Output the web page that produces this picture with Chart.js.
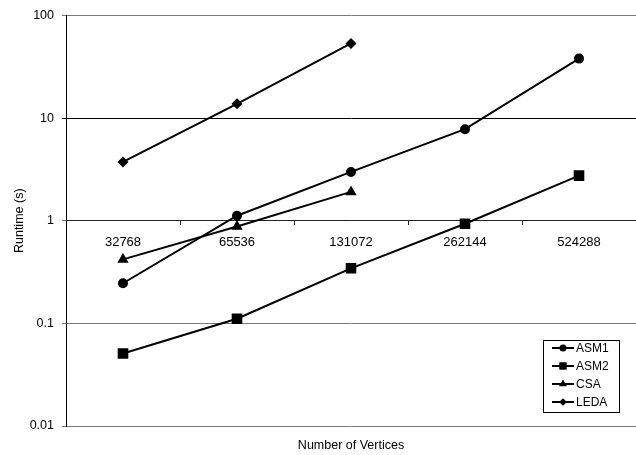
<!DOCTYPE html>
<html lang="en">
<head>
    <meta charset="UTF-8">
    <title>Runtime vs Number of Vertices</title>
    <script src="https://cdn.jsdelivr.net/npm/chart.js"></script>
    <style>
        body { margin: 0; background: #fff; }
        #wrap { width: 636px; height: 455px; }
    </style>
</head>
<body>
    <div id="wrap"><canvas id="runtimeChart" width="636" height="455"></canvas></div>

    <script>
        const vertices = ['32768', '65536', '131072', '262144', '524288'];
        const asm1 = [0.246, 1.12, 2.99, 7.8, 38];
        const asm2 = [0.0508, 0.111, 0.344, 0.935, 2.75];
        const csa = [0.42, 0.88, 1.91, null, null];
        const leda = [3.74, 13.8, 53.5, null, null];
        const yTicks = [0.01, 0.1, 1, 10, 100];

        const font = 'Liberation Sans, Arial, sans-serif';

        function series(label, data, style, radius) {
            return {
                label: label,
                data: data,
                borderColor: '#000',
                backgroundColor: '#000',
                borderWidth: 2,
                pointStyle: style,
                pointRadius: radius,
                pointHoverRadius: radius,
                pointBorderWidth: 0,
                tension: 0
            };
        }

        // legend box drawn inside the plot, bottom right
        const boxLegend = {
            id: 'boxLegend',
            afterDraw(chart) {
                const c = chart.ctx;
                const area = chart.chartArea;
                const w = 76, h = 72;
                const x0 = area.right - 17 - w, y0 = area.bottom - 14 - h;
                c.save();
                c.fillStyle = '#fff';
                c.fillRect(x0, y0, w, h);
                c.strokeStyle = '#000';
                c.lineWidth = 1;
                c.strokeRect(x0 + 0.5, y0 + 0.5, w, h);
                c.font = '12px ' + font;
                c.textBaseline = 'middle';
                chart.data.datasets.forEach((ds, i) => {
                    const y = y0 + 8 + i * 18;
                    c.strokeStyle = '#000';
                    c.lineWidth = 2;
                    c.beginPath();
                    c.moveTo(x0 + 9, y);
                    c.lineTo(x0 + 31, y);
                    c.stroke();
                    c.fillStyle = '#000';
                    Chart.helpers.drawPoint(c, {pointStyle: ds.pointStyle, radius: ds.pointRadius * 0.7, borderWidth: 0}, x0 + 20, y);
                    c.fillStyle = '#000';
                    c.fillText(ds.label, x0 + 33, y + 1);
                });
                c.restore();
            }
        };

        function noSidePadding(scale) {
            scale.paddingLeft = 0;
            scale.paddingRight = 0;
        }

        const ctx = document.getElementById('runtimeChart').getContext('2d');
        new Chart(ctx, {
            type: 'line',
            data: {
                labels: vertices,
                datasets: [
                    series('ASM1', asm1, 'circle', 5),
                    series('ASM2', asm2, 'rect', 7.5),
                    series('CSA', csa, 'triangle', 6.5),
                    series('LEDA', leda, 'rectRot', 5.5)
                ]
            },
            options: {
                responsive: false,
                animation: false,
                layout: { autoPadding: false, padding: { top: 15, right: 0, left: 0, bottom: 0 } },
                plugins: {
                    legend: { display: false },
                    tooltip: { enabled: false }
                },
                scales: {
                    x: {
                        type: 'category',
                        position: { y: 1 },
                        offset: true,
                        grid: {
                            offset: true,
                            drawOnChartArea: false,
                            drawTicks: true,
                            tickLength: 4,
                            color: '#222'
                        },
                        border: { color: '#222', width: 1 },
                        ticks: {
                            color: '#000',
                            font: { family: font, size: 13 },
                            padding: 10,
                            maxRotation: 0
                        },
                        afterFit: noSidePadding
                    },
                    x2: {
                        type: 'category',
                        position: 'bottom',
                        offset: true,
                        grid: { display: false },
                        border: { display: false },
                        ticks: { display: false },
                        title: {
                            display: true,
                            text: 'Number of Vertices',
                            color: '#000',
                            font: { family: font, size: 12.5 },
                            padding: { top: 6, bottom: 2 }
                        },
                        afterFit(scale) {
                            noSidePadding(scale);
                            scale.height = 29;
                        }
                    },
                    y: {
                        type: 'logarithmic',
                        min: 0.01,
                        max: 100,
                        afterBuildTicks(scale) {
                            scale.ticks = yTicks.map(v => ({ value: v }));
                        },
                        afterFit(scale) { scale.width = 66; },
                        grid: {
                            color: ctx => (ctx.tick && ctx.tick.value === 10) ? '#000' : '#7a7a7a',
                            tickLength: 4,
                            drawTicks: true
                        },
                        border: { color: '#000', width: 1 },
                        ticks: {
                            color: '#000',
                            font: { family: font, size: 12.5 },
                            padding: 8,
                            callback: v => String(v)
                        },
                        title: {
                            display: true,
                            text: 'Runtime (s)',
                            color: '#000',
                            font: { family: font, size: 12.5 },
                            padding: { top: 12, bottom: 0 }
                        }
                    }
                }
            },
            plugins: [boxLegend]
        });
    </script>
</body>
</html>
